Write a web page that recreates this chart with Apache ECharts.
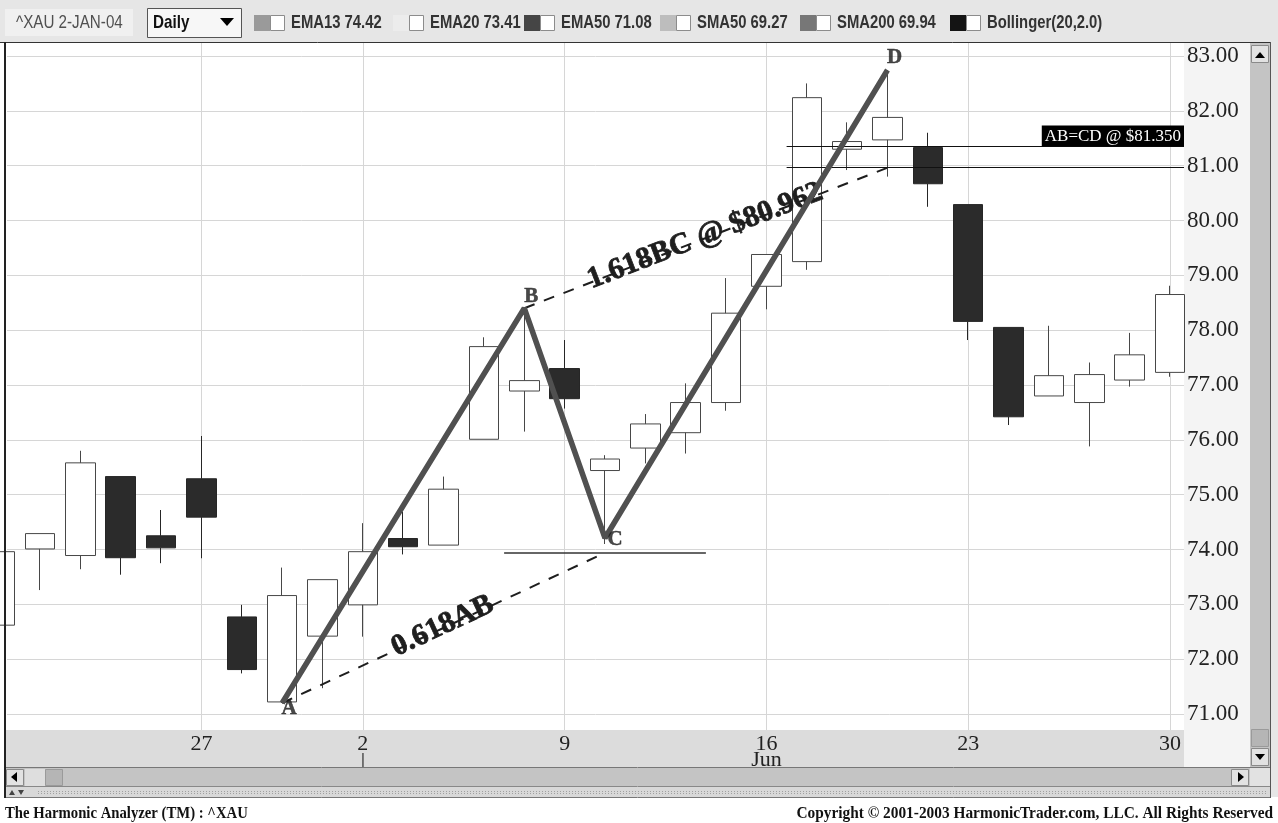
<!DOCTYPE html>
<html>
<head>
<meta charset="utf-8">
<title>^XAU daily - AB=CD</title>
<script src="https://cdn.jsdelivr.net/npm/echarts@6/dist/echarts.min.js"></script>
<style>
html, body { margin: 0; padding: 0; background: #fff; }
#main { width: 1278px; height: 823px; }
</style>
</head>
<body>
<div id="main"></div>
<script>
// ^XAU daily bars, 16 May - 30 Jun 2003
var days   = ['16','19','20','21','22','27','28','29','30','2','3','4','5','6','9','10','11','12','13','16','17','18','19','20','23','24','25','26','27','30'];
var opens  = [72.62, 74.01, 73.89, 75.33, 74.25, 75.29, 72.77, 71.22, 72.42, 72.99, 74.20, 74.08, 76.01, 76.89, 77.30, 75.44, 75.85, 76.13, 76.68, 78.80, 79.25, 81.30, 81.47, 81.33, 80.29, 78.05, 76.80, 76.68, 77.09, 77.23];
var closes = [73.96, 74.29, 75.58, 73.85, 74.03, 74.59, 71.81, 73.16, 73.45, 73.96, 74.05, 75.10, 77.70, 77.08, 76.75, 75.65, 76.29, 76.68, 78.31, 79.38, 82.24, 81.44, 81.88, 80.67, 78.16, 76.42, 77.17, 77.19, 77.55, 78.65];
var lows   = [72.50, 73.26, 73.64, 73.54, 73.75, 73.84, 71.74, 71.20, 71.47, 72.41, 73.91, 74.08, 76.01, 76.15, 76.57, 74.10, 75.57, 75.75, 76.53, 78.38, 79.10, 80.92, 80.80, 80.25, 77.82, 76.27, 76.80, 75.88, 76.97, 77.15];
var highs  = [74.15, 74.29, 75.80, 75.33, 74.72, 76.07, 72.99, 73.67, 73.45, 74.48, 74.69, 75.33, 77.87, 78.40, 77.82, 75.72, 76.47, 77.03, 78.95, 79.38, 82.50, 81.79, 82.74, 81.60, 80.29, 78.05, 78.08, 77.41, 77.95, 78.81];

var weekTicks  = [5, 9, 14, 19, 24, 29];
var monthStart = 9;
var monthName  = 'Jun';
var monthNameAt = 19;
var priceTicks = [71, 72, 73, 74, 75, 76, 77, 78, 79, 80, 81, 82, 83];

// harmonic pattern
var pivotNames = ['A', 'B', 'C', 'D'];
var pivotX = [7, 13, 15, 22];
var pivotY = [71.20, 78.40, 74.21, 82.745];
var cLevel = 73.94;
var abcdLevel = 81.35;
var extLevel = 80.962;

var legendNames  = ['EMA13 74.42', 'EMA20 73.41', 'EMA50 71.08', 'SMA50 69.27', 'SMA200 69.94', 'Bollinger(20,2.0)'];
var legendColors = ['#9a9a9a', '#ececec', '#454545', '#bdbdbd', '#777777', '#141414'];
var legendLeft   = [254, 393, 524, 660, 800, 950];

var xMin = 0.182, xMax = 29.347;
var yMin = 70.708, yMax = 83.237;

var serif = '"Liberation Serif", "Times New Roman", serif';
var sans = '"Liberation Sans", Arial, sans-serif';

var candles = days.map(function (d, i) {
    return [i, opens[i], closes[i], lows[i], highs[i]];
});
var pivots = pivotX.map(function (x, i) { return [x, pivotY[i]]; });
var pivotOffsets = [[7, 6], [7, -12], [10, 2], [7, -12]];

var dashStyle = { type: [11, 10], color: '#1e1e1e', width: 2 };
var bigLabel = { fontFamily: serif, fontWeight: 'bold', fontSize: 30, color: '#1e1e1e',
    textBorderColor: '#1e1e1e', textBorderWidth: 0.8 };

function tri(points, fill) {
    return { type: 'polygon', shape: { points: points }, style: { fill: fill || '#000' }, z: 101, silent: true };
}
function box(x, y, w, h, fill, stroke, z) {
    return { type: 'rect', shape: { x: x, y: y, width: w, height: h },
        style: { fill: fill, stroke: stroke || null, lineWidth: 1 }, z: z == null ? 100 : z, silent: true };
}
function txt(x, y, s, font, fill, align, sx) {
    return { type: 'text', x: x, y: y, z: 102, silent: true, scaleX: sx || 1,
        style: { text: s, font: font, fill: fill || '#222', align: align || 'left', verticalAlign: 'middle' } };
}
function hline(x1, x2, y, stroke, w, z, dash) {
    return { type: 'line', shape: { x1: x1, y1: y, x2: x2, y2: y },
        style: { stroke: stroke, lineWidth: w || 1, lineDash: dash || null }, z: z == null ? 101 : z, silent: true };
}
function vline(x, y1, y2, stroke, w) {
    return { type: 'line', shape: { x1: x, y1: y1, x2: x, y2: y2 },
        style: { stroke: stroke, lineWidth: w || 1 }, z: 101, silent: true };
}

var graphics = [
    // toolbar
    box(0, 0, 1278, 43, '#e6e6e6'),
    box(5, 9, 128, 27, '#f0f0f0'),
    txt(16, 23, '^XAU 2-JAN-04', '19px ' + sans, '#505050', 'left', 0.8),
    box(147.5, 8.5, 94, 29, '#f7f7f7', '#555'),
    txt(153, 23, 'Daily', 'bold 19px ' + sans, '#111', 'left', 0.8),
    tri([[220, 18], [234, 18], [227, 26]]),
    // side / bottom chrome
    box(1270, 43, 8, 755, '#e6e6e6'),
    box(1184, 43, 66, 724, '#f4f4f4', null, -10),
    box(5, 730, 1179, 37, '#dcdcdc', null, -10),
    box(1250, 43, 20, 724, '#c4c4c4'),
    box(1251.5, 45.5, 17, 17, '#e2e2e2', '#8a8a8a'),
    tri([[1255, 58], [1265, 58], [1260, 52]]),
    box(1251.5, 729.5, 17, 17, '#b5b5b5', '#9a9a9a'),
    box(1251.5, 748.5, 17, 17, '#e2e2e2', '#8a8a8a'),
    tri([[1255, 754], [1265, 754], [1260, 760]]),
    box(5, 768, 1245, 18, '#c4c4c4'),
    box(6.5, 769.5, 17, 16, '#e2e2e2', '#8a8a8a'),
    tri([[11, 777], [17, 772], [17, 782]]),
    box(25, 769, 20, 17, '#dedede'),
    box(45.5, 769.5, 17, 16, '#b5b5b5', '#9a9a9a'),
    box(1231.5, 769.5, 17, 16, '#e2e2e2', '#8a8a8a'),
    tri([[1238, 772], [1244, 777], [1238, 782]]),
    box(1250, 767, 20, 20, '#e2e2e2'),
    box(5, 787, 1265, 10, '#d8d8d8'),
    hline(38, 1268, 791.5, '#a0a0a0', 1, 101, [1, 2]),
    hline(38, 1268, 793.5, '#a0a0a0', 1, 101, [1, 2]),
    tri([[9, 795], [15, 795], [12, 790]], '#444'),
    tri([[18, 790], [24, 790], [21, 795]], '#444'),
    box(0, 797, 1278, 26, '#ffffff'),
    hline(5, 1270, 767.5, '#777'),
    hline(0, 1270, 42.5, '#333'),
    hline(5, 1270, 786.5, '#888'),
    hline(5, 1270, 797.5, '#777'),
    vline(5, 42, 798, '#222', 2),
    vline(1270.5, 42, 798, '#555'),
    txt(5, 814, 'The Harmonic Analyzer (TM) : ^XAU', 'bold 16px ' + serif, '#111', 'left', 0.92),
    txt(1273, 814, 'Copyright \u00a9 2001-2003 HarmonicTrader.com, LLC. All Rights Reserved', 'bold 16px ' + serif, '#111', 'right', 0.96)
];

legendNames.forEach(function (name, i) {
    var x = legendLeft[i];
    graphics.push(box(x, 15, 16, 16, legendColors[i]));
    graphics.push(box(x + 16.5, 15.5, 14, 15, '#ffffff', '#8c8c8c'));
    graphics.push(txt(x + 37, 23, name, 'bold 19px ' + sans, '#333', 'left', 0.78));
});

var chart = echarts.init(document.getElementById('main'));

var option = {
    animation: false,
    backgroundColor: '#ffffff',
    grid: { left: 7, right: 94, top: 43, bottom: 93 },
    xAxis: {
        type: 'value',
        min: xMin,
        max: xMax,
        axisLine: { show: false },
        axisTick: { show: false, customValues: weekTicks },
        axisLabel: {
            customValues: weekTicks,
            margin: 6,
            fontFamily: serif,
            fontSize: 22,
            lineHeight: 16,
            color: '#222',
            formatter: function (v) {
                var s = days[v];
                if (v === monthStart) s += '\n{tk||}';
                if (v === monthNameAt) s += '\n{m|' + monthName + '}';
                return s;
            },
            rich: {
                tk: { fontSize: 15, lineHeight: 16, fontFamily: 'sans-serif', color: '#333' },
                m: { fontSize: 22, lineHeight: 16, fontFamily: serif, color: '#222' }
            }
        },
        splitLine: { show: true, lineStyle: { color: '#d6d6d6', width: 1 } }
    },
    yAxis: {
        type: 'value',
        position: 'right',
        min: yMin,
        max: yMax,
        axisLine: { show: false },
        axisTick: { show: false, customValues: priceTicks },
        axisLabel: {
            customValues: priceTicks,
            margin: 3,
            fontFamily: serif,
            fontSize: 23,
            color: '#222',
            formatter: function (v) { return v.toFixed(2); }
        },
        splitLine: { show: true, lineStyle: { color: '#d6d6d6', width: 1 } }
    },
    graphic: graphics,
    series: [
        {
            type: 'candlestick',
            data: candles,
            barWidth: 30,
            itemStyle: {
                color: '#ffffff',
                color0: '#2b2b2b',
                borderColor: '#474747',
                borderColor0: '#262626',
                borderWidth: 1
            },
            z: 2
        },
        {
            type: 'line',
            data: pivots,
            symbol: 'none',
            silent: true,
            lineStyle: { color: '#505050', width: 5.5 },
            z: 5,
            markLine: {
                silent: true,
                symbol: ['none', 'none'],
                animation: false,
                label: { show: false },
                data: [
                    [{ coord: [pivotX[0], pivotY[0]], lineStyle: dashStyle,
                       label: Object.assign({ show: true, position: 'middle', distance: -13, formatter: '0.618AB' }, bigLabel) },
                     { coord: [pivotX[2], cLevel] }],
                    [{ coord: [pivotX[1], pivotY[1]], lineStyle: dashStyle,
                       label: Object.assign({ show: true, position: 'middle', distance: -13, formatter: '1.618BC @ $80.962' }, bigLabel) },
                     { coord: [pivotX[3], extLevel] }],
                    [{ coord: [12.5, cLevel], lineStyle: { type: 'solid', color: '#333', width: 1.5 } },
                     { coord: [17.5, cLevel] }],
                    [{ coord: [19.5, abcdLevel], lineStyle: { type: 'solid', color: '#111', width: 1 },
                       label: { show: true, position: 'insideEndTop', distance: [0, 0], formatter: 'AB=CD @ $81.350',
                                backgroundColor: '#000', color: '#fff', padding: [3, 3, 1, 3],
                                fontFamily: serif, fontSize: 17 } },
                     { coord: [xMax, abcdLevel] }],
                    [{ coord: [19.5, extLevel], lineStyle: { type: 'solid', color: '#111', width: 1 } },
                     { coord: [xMax, extLevel] }]
                ]
            }
        },
        {
            type: 'scatter',
            symbolSize: 1,
            silent: true,
            itemStyle: { color: 'rgba(0,0,0,0)' },
            z: 6,
            data: pivots.map(function (p, i) {
                return { value: p, label: { offset: pivotOffsets[i] } };
            }),
            label: {
                show: true,
                position: 'inside',
                formatter: function (p) { return pivotNames[p.dataIndex]; },
                fontFamily: serif,
                fontWeight: 'bold',
                fontSize: 21,
                color: '#1a1a1a',
                textBorderColor: '#1a1a1a',
                textBorderWidth: 0.5
            }
        }
    ]
};

chart.setOption(option);
</script>
</body>
</html>
